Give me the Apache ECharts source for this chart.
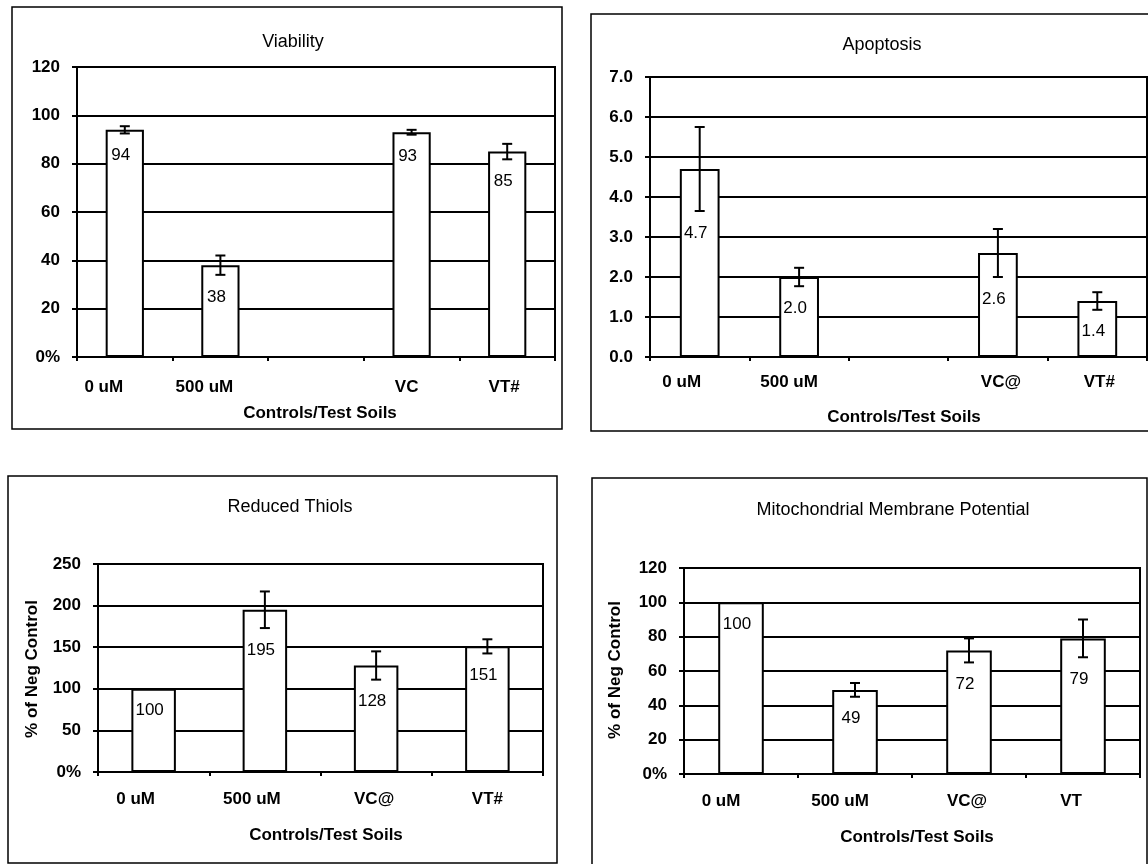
<!DOCTYPE html>
<html><head><meta charset="utf-8">
<script src="https://cdn.jsdelivr.net/npm/echarts@6/dist/echarts.min.js"></script>
<style>html,body{margin:0;padding:0;background:#fff}#c{width:1148px;height:864px}</style>
</head><body><div id="c"></div>
<script>
// ---------- DATA ----------
const viabilityCategories = ['0 uM', '500 uM', '', 'VC', 'VT#'];
const viabilityValues = [94, 38, null, 93, 85];
const viabilityErrors = [1.5, 4, null, 1, 3.2];
const viabilityTicks = [0, 20, 40, 60, 80, 100, 120];

const apoptosisCategories = ['0 uM', '500 uM', '', 'VC@', 'VT#'];
const apoptosisValues = [4.7, 2.0, null, 2.6, 1.4];
const apoptosisErrors = [1.05, 0.23, null, 0.6, 0.22];
const apoptosisTicks = [0, 1, 2, 3, 4, 5, 6, 7];

const thiolsCategories = ['0 uM', '500 uM', 'VC@', 'VT#'];
const thiolsValues = [100, 195, 128, 151];
const thiolsErrors = [null, 22, 17, 8.5];
const thiolsTicks = [0, 50, 100, 150, 200, 250];

const mmpCategories = ['0 uM', '500 uM', 'VC@', 'VT'];
const mmpValues = [100, 49, 72, 79];
const mmpErrors = [null, 4, 7, 11];
const mmpTicks = [0, 20, 40, 60, 80, 100, 120];

const titles = ['Viability', 'Apoptosis', 'Reduced Thiols', 'Mitochondrial Membrane Potential'];
const xAxisTitle = 'Controls/Test Soils';
const yAxisTitle = '% of Neg Control';

// ---------- LAYOUT ----------
const FONT = '"Liberation Sans", Arial, Helvetica, sans-serif';
const panels = [
  {cats: viabilityCategories, vals: viabilityValues, errs: viabilityErrors, ticks: viabilityTicks,
   grid: {left: 77, top: 67, width: 478, height: 290}, labelMargin: 22, decimals: 0, zeroPct: true,
   shifts: [-21, -16, 0, -5, -3]},
  {cats: apoptosisCategories, vals: apoptosisValues, errs: apoptosisErrors, ticks: apoptosisTicks,
   grid: {left: 650, top: 77, width: 497, height: 280}, labelMargin: 17, decimals: 1, zeroPct: false,
   shifts: [-18, -10, 0, 3, 2]},
  {cats: thiolsCategories, vals: thiolsValues, errs: thiolsErrors, ticks: thiolsTicks,
   grid: {left: 98, top: 564, width: 445, height: 208}, labelMargin: 19, decimals: 0, zeroPct: true,
   shifts: [-18, -13, -2, 0]},
  {cats: mmpCategories, vals: mmpValues, errs: mmpErrors, ticks: mmpTicks,
   grid: {left: 684, top: 568, width: 456, height: 206}, labelMargin: 19, decimals: 0, zeroPct: true,
   shifts: [-20, -15, -2, -12]}
];

const grids = [], xAxes = [], yAxes = [], series = [];

panels.forEach((p, k) => {
  grids.push(Object.assign({show: true, borderColor: '#000', borderWidth: 2, backgroundColor: 'transparent'}, p.grid));
  const rich = {};
  p.shifts.forEach((s, i) => {
    rich['s' + i] = {
      fontSize: 17, fontWeight: 'bold', fontFamily: FONT, color: '#000',
      padding: s < 0 ? [0, -2 * s, 0, 0] : [0, 0, 0, 2 * s]
    };
  });
  xAxes.push({
    type: 'category', gridIndex: k, data: p.cats,
    axisLine: {lineStyle: {color: '#000', width: 2}},
    axisTick: {show: true, length: 4, lineStyle: {color: '#000', width: 2}},
    axisLabel: {
      interval: 0, margin: p.labelMargin,
      formatter: (v, i) => v ? '{s' + i + '|' + v + '}' : '',
      rich: rich
    },
    splitLine: {show: false}
  });
  const maxT = p.ticks[p.ticks.length - 1];
  yAxes.push({
    type: 'value', gridIndex: k, min: p.ticks[0], max: maxT, interval: p.ticks[1] - p.ticks[0],
    axisLine: {show: true, lineStyle: {color: '#000', width: 2}},
    axisTick: {show: true, length: 5, lineStyle: {color: '#000', width: 2}},
    axisLabel: {
      margin: 17, color: '#000', fontSize: 17, fontWeight: 'bold', fontFamily: FONT,
      formatter: v => (v === 0 && p.zeroPct) ? '0%' : v.toFixed(p.decimals)
    },
    splitLine: {show: true, lineStyle: {color: '#000', width: 2}}
  });
  series.push({
    type: 'bar', xAxisIndex: k, yAxisIndex: k, barWidth: '40%',
    data: p.vals.map(v => v == null ? '-' : v),
    itemStyle: {color: '#fff', borderColor: '#000', borderWidth: 2},
    silent: true, animation: false
  });
  const errData = [];
  p.vals.forEach((v, i) => { if (v != null) errData.push([i, v, p.errs[i] == null ? 0 : p.errs[i]]); });
  series.push({
    type: 'custom', xAxisIndex: k, yAxisIndex: k, data: errData, silent: true, animation: false,
    encode: {x: 0, y: 1}, z: 5,
    renderItem: (params, api) => {
      const idx = api.value(0), v = api.value(1), e = api.value(2);
      const top = api.coord([idx, v]);
      const x = top[0];
      const children = [];
      let lowY = top[1];
      if (e > 0) {
        const hi = api.coord([idx, v + e])[1];
        const lo = api.coord([idx, v - e])[1];
        lowY = lo;
        const cap = 5;
        const st = {stroke: '#000', lineWidth: 2};
        children.push({type: 'line', shape: {x1: x, y1: hi, x2: x, y2: lo}, style: st});
        children.push({type: 'line', shape: {x1: x - cap, y1: hi, x2: x + cap, y2: hi}, style: st});
        children.push({type: 'line', shape: {x1: x - cap, y1: lo, x2: x + cap, y2: lo}, style: st});
      }
      children.push({
        type: 'text', x: x - 4, y: lowY + 22,
        style: {text: v.toFixed(p.decimals), fill: '#000', fontSize: 17, fontFamily: FONT,
                align: 'center', verticalAlign: 'middle'}
      });
      return {type: 'group', children: children};
    }
  });
});

function txt(text, x, y, opts) {
  return Object.assign({
    type: 'text', x: x, y: y, silent: true,
    style: Object.assign({text: text, fill: '#000', fontSize: 18, fontFamily: FONT,
                          align: 'center', verticalAlign: 'middle'}, (opts && opts.style) || {})
  }, (opts && opts.el) || {});
}
function frame(x, y, w, h) {
  return {type: 'rect', silent: true, shape: {x: x, y: y, width: w, height: h},
          style: {fill: 'none', stroke: '#000', lineWidth: 1.5}};
}

const graphics = [
  frame(12, 7, 550, 422),
  frame(591, 14, 580, 417),
  frame(8, 476, 549, 387),
  frame(592, 478, 555, 400),
  txt(titles[0], 293, 42),
  txt(titles[1], 882, 45),
  txt(titles[2], 290, 507),
  txt(titles[3], 893, 510),
  txt(xAxisTitle, 320, 413, {style: {fontSize: 17, fontWeight: 'bold'}}),
  txt(xAxisTitle, 904, 417, {style: {fontSize: 17, fontWeight: 'bold'}}),
  txt(xAxisTitle, 326, 835, {style: {fontSize: 17, fontWeight: 'bold'}}),
  txt(xAxisTitle, 917, 837, {style: {fontSize: 17, fontWeight: 'bold'}}),
  txt(yAxisTitle, 32, 669, {style: {fontSize: 17, fontWeight: 'bold'}, el: {rotation: Math.PI / 2}}),
  txt(yAxisTitle, 615, 670, {style: {fontSize: 17, fontWeight: 'bold'}, el: {rotation: Math.PI / 2}})
];

const chart = echarts.init(document.getElementById('c'), null, {renderer: 'canvas'});
chart.setOption({
  backgroundColor: '#fff',
  animation: false,
  grid: grids, xAxis: xAxes, yAxis: yAxes, series: series,
  graphic: graphics
});
</script>
</body></html>
